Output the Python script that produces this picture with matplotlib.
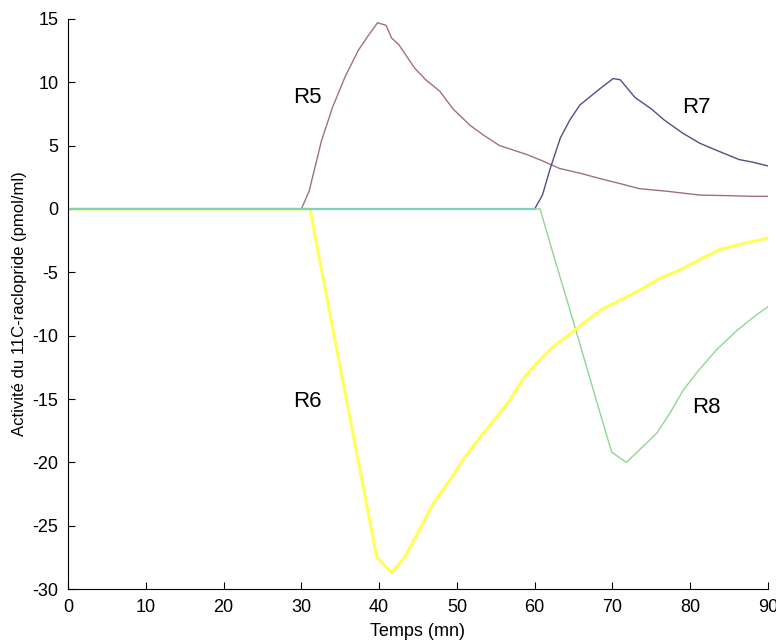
import matplotlib
matplotlib.use("Agg")
import matplotlib.pyplot as plt

plt.rcParams['font.family'] = ['Liberation Sans', 'DejaVu Sans']
plt.rcParams['axes.unicode_minus'] = False

# Baseline (overlapping zero segments)
base_t = [0, 60]
base_v = [0, 0]

# R5
r5_t = [30, 31, 32.6, 34, 35.6, 37.3, 38.5, 39.8, 40.9, 41.6, 42.5, 44.6, 46, 47.8, 49.5, 51.7, 53.5,
        55.5, 57, 59, 61, 63.2, 66, 68.4, 71, 73.5, 77, 81.2, 85, 88, 90]
r5_v = [0, 1.4, 5.4, 8.0, 10.4, 12.5, 13.6, 14.7, 14.5, 13.5, 13.0, 11.1, 10.2, 9.3, 7.9, 6.6, 5.8,
        5.0, 4.7, 4.3, 3.8, 3.2, 2.8, 2.4, 2.0, 1.6, 1.4, 1.1, 1.05, 1.0, 1.0]

# R6
r6_t = [0, 31.1, 33, 35, 37, 39.7, 41.6, 43.3, 45.2, 47, 49.1, 51, 53, 55, 56.8, 58.5, 60.7,
        62.5, 64.5, 66.5, 68.4, 71, 73.5, 76, 78.7, 81.2, 83.8, 87, 90]
r6_v = [0, 0, -6.1, -12.5, -18.9, -27.5, -28.7, -27.5, -25.3, -23.2, -21.4, -19.6, -18.0, -16.5, -15.1, -13.4, -11.9,
        -10.8, -9.9, -8.9, -8.0, -7.2, -6.4, -5.5, -4.8, -4.0, -3.2, -2.7, -2.3]

# R7
r7_t = [60, 61, 62, 63.3, 64.5, 65.8, 67, 68.4, 70.1, 71, 72.9, 75, 76.7, 79, 81.2, 83.5, 86.3, 88, 90]
r7_v = [0, 1.1, 3.2, 5.6, 7.0, 8.2, 8.8, 9.5, 10.3, 10.2, 8.8, 7.9, 7.0, 6.0, 5.2, 4.6, 3.9, 3.7, 3.4]

# R8
r8_t = [0, 60.7, 62.5, 64.5, 66.5, 68.5, 69.9, 71.8, 73.5, 75.7, 77.5, 79.1, 81, 83.4, 86, 88, 90]
r8_v = [0, 0, -3.8, -7.9, -12.1, -16.3, -19.2, -20.0, -19.0, -17.7, -16.0, -14.3, -12.8, -11.1, -9.6, -8.6, -7.7]

labels = ["R5", "R6", "R7", "R8"]
label_x = [30.8, 30.8, 80.8, 82.1]
label_y = [8.8, -15.2, 8.0, -15.7]

fig = plt.figure(figsize=(7.76, 6.41), dpi=100)
ax = fig.add_axes([0.0876, 0.0811, 0.9021, 0.8893])

ax.plot(r8_t, r8_v, color='#90d890', lw=1.0)
ax.plot(r6_t, r6_v, color='#ffff55', lw=2.2)
ax.plot(r5_t, r5_v, color='#a07080', lw=1.0)
ax.plot(r7_t, r7_v, color='#505088', lw=1.0)
ax.plot(base_t, base_v, color='#80d0c0', lw=1.6)

for lab, x, y in zip(labels, label_x, label_y):
    ax.text(x, y, lab, fontsize=16, ha='center', va='center', color='black')

ax.set_xlim(0, 90)
ax.set_ylim(-30, 15)
ax.set_xticks(range(0, 91, 10))
ax.set_yticks(range(-30, 16, 5))
ax.spines['top'].set_visible(False)
ax.spines['right'].set_visible(False)
ax.tick_params(direction='in', length=5, labelsize=13)
ax.tick_params(axis='x', pad=7)
ax.tick_params(axis='y', pad=7)
ax.set_xlabel("Temps (mn)", fontsize=13, labelpad=5)
ax.set_ylabel("Activité du 11C-raclopride (pmol/ml)", fontsize=12, labelpad=4)

fig.savefig("out.png", dpi=100)
